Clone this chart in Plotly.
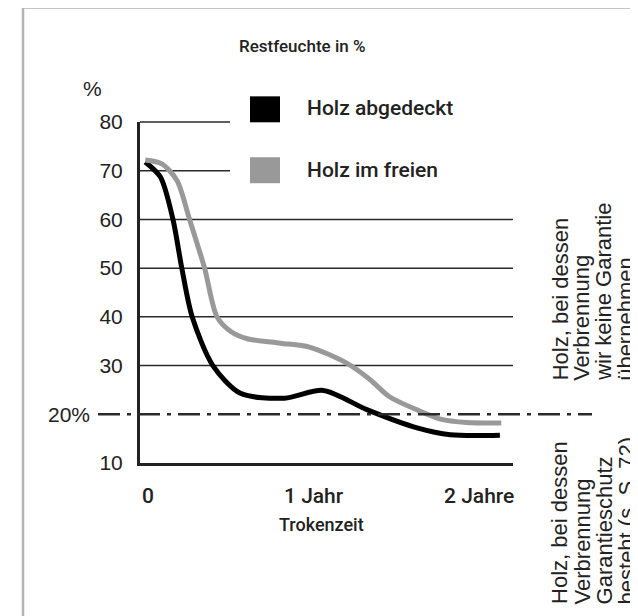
import plotly.graph_objects as go

# ---------------- data ----------------
months_covered = [-0.2, 0.9, 1.8, 2.45, 3.2, 4.7, 6.7, 9.9, 12.7, 15.9, 19.5, 21.9, 25.5]
moist_covered = [71.8, 68.7, 60.1, 50.0, 40.0, 30.0, 24.3, 23.3, 24.9, 20.9, 17.2, 15.8, 15.7]

months_open = [-0.2, 1.0, 2.1, 3.0, 4.1, 5.0, 6.0, 7.2, 9.6, 11.7, 14.4, 16.1, 17.5, 19.5, 21.2, 23.1, 25.6]
moist_open = [72.2, 71.4, 68.0, 60.1, 50.0, 40.0, 37.0, 35.5, 34.6, 33.8, 30.5, 27.1, 23.6, 20.9, 19.0, 18.3, 18.2]

series_names = ["Holz abgedeckt", "Holz im freien"]
y_tick_values = [10, 30, 40, 50, 60, 70, 80]
y_tick_labels = ["10", "30", "40", "50", "60", "70", "80"]
short_grid_values = [70, 80]
long_grid_values = [30, 40, 50, 60]
limit_value = 20
limit_label = "20%"
x_tick_values = [0, 12, 24]
x_tick_labels = ["0", "1 Jahr", "2 Jahre"]
title_text = "Restfeuchte in %"
y_unit = "%"
x_title = "Trokenzeit"
note_above = ["Holz, bei dessen", "Verbrennung", "wir keine Garantie", "übernehmen"]
note_below = ["Holz, bei dessen", "Verbrennung", "Garantieschutz", "besteht (s. S. 72)"]

# ---------------- layout helpers ----------------
W, H = 638, 616          # target picture size
PAGE = 8                 # default body margin of the html page
L, R, T, B = 140, 513, 121.7, 463.3
Y_MIN, Y_MAX = 10, 80
X_MIN, X_MAX = -0.58, 26.45
FONT = "Liberation Sans, Arial, sans-serif"
FONT_M = "Roboto, Liberation Sans, Arial, sans-serif"
TXT = "#222222"


def xp(px):
    return (px - L) / (R - L)


def yp(py):
    return (B - py) / (B - T)


def yv(v):
    return (v - Y_MIN) / (Y_MAX - Y_MIN)


fig = go.Figure()
fig.add_trace(go.Scatter(x=months_covered, y=moist_covered, mode="lines", name=series_names[0],
                         line=dict(color="#000000", width=5, shape="spline", smoothing=0.8)))
fig.add_trace(go.Scatter(x=months_open, y=moist_open, mode="lines", name=series_names[1],
                         line=dict(color="#999999", width=5, shape="spline", smoothing=0.8)))

shapes = []
shapes.append(dict(type="rect", xref="paper", yref="paper", x0=xp(23), x1=xp(660), y0=yp(640), y1=yp(7),
                   line=dict(color="#b3b3b3", width=2.5), fillcolor="rgba(0,0,0,0)", layer="below"))
for v in long_grid_values:
    shapes.append(dict(type="line", xref="paper", yref="paper", x0=0, x1=1, y0=yv(v), y1=yv(v),
                       line=dict(color="#2a2a2a", width=1.5), layer="below"))
for v in short_grid_values:
    shapes.append(dict(type="line", xref="paper", yref="paper", x0=0, x1=xp(230), y0=yv(v), y1=yv(v),
                       line=dict(color="#2a2a2a", width=1.5), layer="below"))
shapes.append(dict(type="line", xref="paper", yref="paper", x0=xp(98), x1=xp(592),
                   y0=yv(limit_value), y1=yv(limit_value),
                   line=dict(color="#2a2a2a", width=2.5, dash="22px,7px,4px,7px")))
shapes.append(dict(type="rect", xref="paper", yref="paper", x0=xp(250), x1=xp(280), y0=yp(122), y1=yp(96),
                   fillcolor="#000000", line=dict(width=0)))
shapes.append(dict(type="rect", xref="paper", yref="paper", x0=xp(250), x1=xp(280), y0=yp(183), y1=yp(157),
                   fillcolor="#999999", line=dict(width=0)))


def label(text, px, py, size, xanchor="center", yanchor="middle", angle=0, family=FONT, weight=400):
    return dict(text=text, x=xp(px), y=yp(py), xref="paper", yref="paper", showarrow=False,
                xanchor=xanchor, yanchor=yanchor, textangle=angle,
                font=dict(size=size, color=TXT, family=family, weight=weight))


ann = [
    label(title_text, 302, 46, 17, family=FONT_M, weight=500),
    label(y_unit, 92, 88, 21),
    dict(text=limit_label, x=xp(92), y=yv(limit_value), xref="paper", yref="paper", showarrow=False,
         xanchor="right", yanchor="middle", font=dict(size=21, color=TXT, family=FONT)),
    label(x_title, 321, 525, 18, family=FONT_M, weight=500),
    label(series_names[0], 305, 108, 21, xanchor="left", family=FONT_M, weight=500),
    label(series_names[1], 305, 170, 21, xanchor="left", family=FONT_M, weight=500),
]
cols = [560, 582, 604, 626]
for i, line in enumerate(note_above):
    ann.append(label(line, cols[i], 383, 22, xanchor="center", yanchor="bottom", angle=-90))
for i, line in enumerate(note_below):
    ann.append(label(line, cols[i], 607, 22, xanchor="center", yanchor="bottom", angle=-90))

fig.update_layout(
    width=W - PAGE, height=H - PAGE,
    margin=dict(l=L - PAGE, r=W - R, t=T - PAGE, b=H - B, pad=0),
    paper_bgcolor="white", plot_bgcolor="white",
    showlegend=False,
    shapes=shapes, annotations=ann,
    font=dict(family=FONT, color=TXT),
)
fig.update_xaxes(range=[X_MIN, X_MAX], showgrid=False, zeroline=False, showline=True, linecolor="#222222",
                 linewidth=3, tickvals=x_tick_values, ticktext=x_tick_labels, ticks="",
                 ticklabelstandoff=12, tickfont=dict(size=21, color=TXT, family=FONT_M, weight=500))
fig.update_yaxes(range=[Y_MIN, Y_MAX], showgrid=False, zeroline=False, showline=True, linecolor="#222222",
                 linewidth=3, tickvals=y_tick_values, ticktext=y_tick_labels, ticks="",
                 ticklabelstandoff=10, tickfont=dict(size=21, color=TXT, family=FONT))

fig.write_html("out.html")
